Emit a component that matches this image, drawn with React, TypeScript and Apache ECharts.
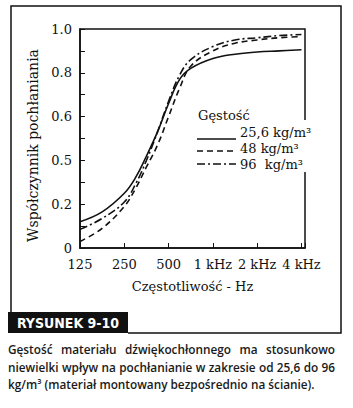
import React, { useEffect, useRef } from "react";
import * as echarts from "echarts";

// octave positions: 0 = 125 Hz, 1 = 250 Hz, ... 5 = 4 kHz
const xLabels = ["125", "250", "500", "1 kHz", "2 kHz", "4 kHz"];
const yLabels = ["0", "", "0.2", "", "0.5", "", "0.6", "", "0.8", "", "1.0"];
const octaves = [0, 0.5, 1, 1.25, 1.5, 1.75, 2, 2.25, 2.5, 3, 3.5, 4, 4.5, 5];
const density256 = [0.12, 0.165, 0.25, 0.32, 0.42, 0.53, 0.66, 0.77, 0.82, 0.865, 0.885, 0.895, 0.9, 0.905];
const density48 = [0.03, 0.09, 0.19, 0.27, 0.37, 0.47, 0.6, 0.73, 0.83, 0.9, 0.935, 0.95, 0.96, 0.965];
const density96 = [0.085, 0.135, 0.21, 0.29, 0.4, 0.53, 0.67, 0.79, 0.86, 0.92, 0.95, 0.96, 0.97, 0.975];
const seriesNames = ["25,6 kg/m³", "48 kg/m³", "96  kg/m³"];
const legendTitle = "Gęstość";
const xName = "Częstotliwość - Hz";
const yName = "Współczynnik pochłaniania";
const figLabel = "RYSUNEK 9-10";
const captionLine1 = "Gęstość materiału dźwiękochłonnego ma stosunkowo";
const captionLine2 = "niewielki wpływ na pochłanianie w zakresie od 25,6 do 96";
const captionLine3 = "kg/m³ (materiał montowany bezpośrednio na ścianie).";

const SERIF = "DejaVu Serif";
const CAP_FONT = "600 11.8px 'Open Sans'";

export default function App() {
  const ref = useRef<HTMLDivElement>(null);
  useEffect(() => {
    if (!ref.current) return;
    const chart = echarts.init(ref.current, undefined, { renderer: "svg" });
    const mk = (vals: number[]) => octaves.map((o, i) => [o, vals[i]]);
    const dashes: any[] = ["solid", [6, 4], [8, 3, 2, 3]];
    const series = [density256, density48, density96].map((vals, i) => ({
      type: "line",
      name: seriesNames[i],
      data: mk(vals),
      smooth: 0.4,
      symbol: "none",
      lineStyle: { color: "#111", width: 1.6, type: dashes[i] },
    }));
    const legendY = [139, 151, 164];
    const legendTextY = [132, 148, 164];
    const graphic: any[] = [
      // outer frame
      { type: "polyline", shape: { points: [[11, 312], [11, 6], [341, 6], [341, 333], [128, 333]] }, style: { stroke: "#111", lineWidth: 1.5, fill: null }, silent: true },
      { type: "rect", shape: { x: 8, y: 312, width: 120, height: 21 }, style: { fill: "#111" } },
      { type: "text", x: 68, y: 322.5, style: { text: figLabel, fill: "#fff", font: "bold 14px 'DejaVu Sans Condensed'", align: "center", verticalAlign: "middle" } },
      // legend background covering the border
      { type: "rect", shape: { x: 240, y: 120, width: 80, height: 52 }, style: { fill: "#fff" }, z: 10 },
      { type: "text", x: 198, y: 115, z: 11, style: { text: legendTitle, fill: "#111", font: `13px '${SERIF}'`, align: "left", verticalAlign: "middle" } },
    ];
    seriesNames.forEach((n, i) => {
      graphic.push({ type: "line", z: 11, shape: { x1: 197, y1: legendY[i], x2: 236, y2: legendY[i] }, style: { stroke: "#111", lineWidth: 1.3, lineDash: i === 0 ? null : dashes[i] } });
      graphic.push({ type: "text", z: 11, x: 240, y: legendTextY[i], style: { text: n, fill: "#111", font: `13px '${SERIF}'`, align: "left", verticalAlign: "middle" } });
    });
    // justified caption lines
    const cv = document.createElement("canvas");
    const ctx = cv.getContext("2d")!;
    ctx.font = CAP_FONT;
    const justify = (line: string, y: number) => {
      const words = line.split(" ");
      const widths = words.map((w) => ctx.measureText(w).width);
      const total = widths.reduce((a, b) => a + b, 0);
      const gap = (335 - 8 - total) / (words.length - 1);
      let x = 8;
      words.forEach((w, i) => {
        graphic.push({ type: "text", x, y, style: { text: w, fill: "#1a1a1a", font: CAP_FONT, align: "left", verticalAlign: "middle" } });
        x += widths[i] + gap;
      });
    };
    justify(captionLine1, 349);
    justify(captionLine2, 367);
    graphic.push({ type: "text", x: 8, y: 384, style: { text: captionLine3, fill: "#1a1a1a", font: CAP_FONT, align: "left", verticalAlign: "middle" } });

    chart.setOption({
      animation: false,
      backgroundColor: "#fff",
      grid: { left: 80, right: 48, top: 29, bottom: 160, show: true, borderColor: "#111", borderWidth: 1.5, backgroundColor: "transparent" },
      xAxis: {
        type: "value", min: 0, max: 5.08, interval: 1,
        name: xName, nameLocation: "middle", nameGap: 32,
        nameTextStyle: { fontFamily: SERIF, fontSize: 13, color: "#111" },
        axisLine: { lineStyle: { color: "#111", width: 1.5 } },
        axisTick: { inside: true, length: 5, lineStyle: { color: "#111" } },
        splitLine: { show: false },
        axisLabel: {
          margin: 10, color: "#111", fontFamily: SERIF, fontSize: 13,
          formatter: (v: number) => (Math.abs(v - Math.round(v)) < 1e-6 ? xLabels[Math.round(v)] ?? "" : ""),
        },
      },
      yAxis: {
        type: "value", min: 0, max: 1, interval: 0.1,
        name: yName, nameLocation: "middle", nameGap: 33,
        nameTextStyle: { fontFamily: SERIF, fontSize: 14, color: "#111", padding: [0, 14, 0, 0] },
        axisLine: { show: true, lineStyle: { color: "#111", width: 1.5 } },
        axisTick: { inside: true, length: 5, lineStyle: { color: "#111" } },
        splitLine: { show: false },
        axisLabel: {
          margin: 8, color: "#111", fontFamily: SERIF, fontSize: 13,
          formatter: (v: number) => yLabels[Math.round(v * 10)] ?? "",
        },
      },
      series,
      graphic,
    });
    return () => chart.dispose();
  }, []);
  return <div ref={ref} style={{ position: "fixed", left: 0, top: 0, width: 353, height: 408 }} />;
}
